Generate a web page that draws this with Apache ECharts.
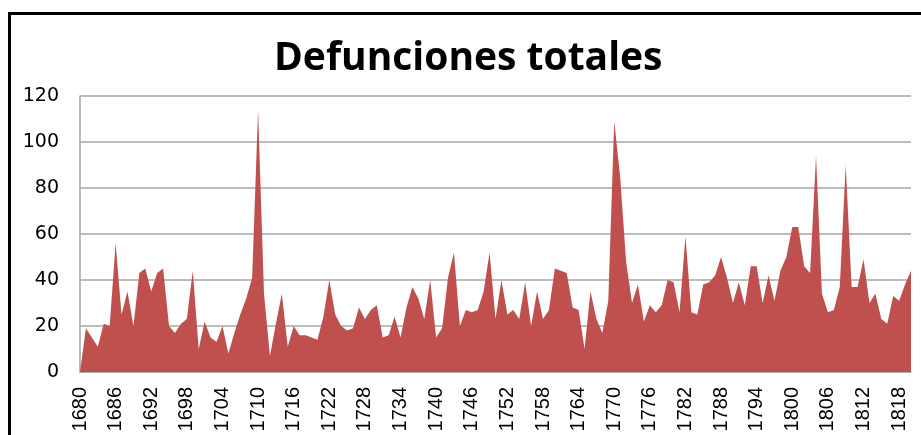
<!DOCTYPE html>
<html>
<head>
<meta charset="utf-8">
<script src="https://cdn.jsdelivr.net/npm/echarts@6/dist/echarts.min.js"></script>
<style>
html,body{margin:0;padding:0;background:#fff;}
#chart{width:921px;height:435px;}
</style>
</head>
<body>
<div id="chart"></div>
<script>
const titleText = "Defunciones totales";
const startYear = 1680;
const endYear = 1820;
const years = [];
for (let y = startYear; y <= endYear; y++) years.push(String(y));

const deaths1680s = [0, 19, 15, 11, 21, 20, 56, 25, 35, 20];
const deaths1690s = [43, 45, 35, 43, 45, 20, 17, 21, 23, 44];
const deaths1700s = [10, 22, 15, 13, 20, 8, 17, 25, 32, 41];
const deaths1710s = [114, 34, 7, 21, 34, 11, 20, 16, 16, 15];
const deaths1720s = [14, 24, 40, 25, 20, 18, 19, 28, 23, 27];
const deaths1730s = [29, 15, 16, 24, 15, 28, 37, 32, 23, 40];
const deaths1740s = [15, 19, 41, 52, 20, 27, 26, 27, 35, 52];
const deaths1750s = [23, 40, 25, 27, 23, 39, 20, 35, 23, 27];
const deaths1760s = [45, 44, 43, 28, 27, 10, 35, 23, 17, 31];
const deaths1770s = [109, 85, 48, 30, 38, 22, 29, 26, 29, 40];
const deaths1780s = [39, 26, 59, 26, 25, 38, 39, 42, 50, 41];
const deaths1790s = [30, 39, 29, 46, 46, 30, 42, 31, 44, 50];
const deaths1800s = [63, 63, 46, 43, 94, 34, 26, 27, 37, 90];
const deaths1810s = [37, 37, 49, 30, 34, 23, 21, 33, 31, 38];
const deaths1820s = [44];

const deaths = [].concat(deaths1680s, deaths1690s, deaths1700s, deaths1710s,
  deaths1720s, deaths1730s, deaths1740s, deaths1750s, deaths1760s,
  deaths1770s, deaths1780s, deaths1790s, deaths1800s, deaths1810s, deaths1820s);

const chart = echarts.init(document.getElementById('chart'), null, {renderer:'canvas'});
chart.setOption({
  animation: false,
  backgroundColor: '#ffffff',
  title: {
    text: titleText,
    left: 269,
    top: 34,
    textStyle: {
      fontFamily: '"Open Sans"',
      fontWeight: 'bold',
      fontSize: 39,
      color: '#000'
    }
  },
  graphic: [{
    type: 'rect',
    shape: {x: 9.5, y: 13.5, width: 1000, height: 1000},
    style: {fill: 'none', stroke: '#000', lineWidth: 3},
    silent: true,
    z: 100
  }],
  grid: {left: 80, right: 10, top: 96, bottom: 63, containLabel: false},
  xAxis: {
    type: 'category',
    data: years,
    boundaryGap: false,
    axisLine: {lineStyle: {color: '#a6a6a6', width: 1.5}},
    axisTick: {show: false},
    axisLabel: {
      interval: 5,
      rotate: 90,
      margin: 15,
      fontFamily: '"Liberation Sans"',
      fontSize: 20,
      color: '#000'
    },
    splitLine: {show: false}
  },
  yAxis: {
    type: 'value',
    min: 0,
    max: 120,
    interval: 20,
    axisLine: {show: true, lineStyle: {color: '#a6a6a6', width: 1.5}},
    axisTick: {show: false},
    axisLabel: {
      margin: 21,
      fontFamily: '"DejaVu Sans"',
      fontSize: 19,
      color: '#000'
    },
    splitLine: {lineStyle: {color: '#a6a6a6', width: 1.5}}
  },
  series: [{
    type: 'line',
    data: deaths,
    symbol: 'none',
    lineStyle: {width: 0},
    areaStyle: {color: '#C0504D', opacity: 1},
    itemStyle: {color: '#C0504D'}
  }]
});
</script>
</body>
</html>
